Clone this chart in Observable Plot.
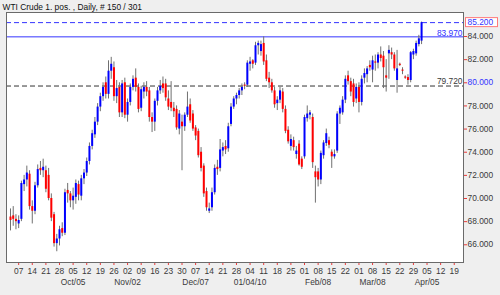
<!DOCTYPE html>
<html><head><meta charset="utf-8">
<script src="https://cdn.jsdelivr.net/npm/d3@7"></script>
<script src="https://cdn.jsdelivr.net/npm/@observablehq/plot@0.6"></script>
<style>
html,body{margin:0;padding:0;background:#efefef;}
</style></head><body><div id="chart"></div>
<script>
const title = "WTI Crude 1. pos. , Daily, # 150 / 301";

const open = [68.4,68.5,68.2,67.8,68.2,71.2,71.6,72.1,69.3,68.9,71.1,72.6,72.4,72.4,72.0,70.0,68.6,66.1,66.5,67.4,
67.0,70.7,70.4,69.8,70.1,71.2,70.2,71.7,72.2,73.2,74.5,75.5,76.6,77.9,78.8,80.0,79.0,81.0,81.3,78.8,
79.6,77.4,80.0,77.2,78.3,79.6,80.4,79.6,77.8,79.2,79.6,79.3,77.0,76.6,78.4,79.3,79.9,79.9,78.6,78.3,
77.8,77.7,76.0,76.6,76.2,77.2,78.1,77.3,76.1,75.8,74.0,72.8,70.6,68.9,69.2,70.5,72.7,72.6,74.1,74.5,
74.3,76.4,77.9,78.6,78.9,79.3,79.8,79.8,81.6,81.9,81.7,83.2,82.7,83.4,81.9,80.4,80.0,79.3,78.2,78.5,
79.2,77.7,75.9,74.5,75.0,73.8,74.7,73.4,73.6,76.9,77.2,77.0,72.3,72.3,71.6,73.7,74.75,75.0,74.0,73.6,
74.1,77.3,77.4,78.5,80.6,80.1,79.9,78.6,79.6,78.3,80.4,80.7,81.5,81.1,81.8,81.7,82.4,82.3,80.6,82.5,
82.6,82.4,80.2,81.6,81.1,80.5,80.45,80.2,82.4,82.5,83.3,83.6];
const high = [69.1,69.3,68.6,68.5,71.5,72.0,72.8,72.4,69.8,71.4,72.9,73.2,73.4,72.8,72.6,70.4,68.8,66.9,67.6,67.9,
70.8,71.3,70.6,70.9,71.6,71.5,72.0,72.5,73.5,74.8,75.9,77.0,78.2,79.1,80.0,80.5,81.9,82.2,81.8,80.2,
80.0,80.2,80.4,78.6,79.9,80.6,81.2,79.9,79.7,80.0,80.1,79.6,77.4,78.6,79.6,80.2,80.5,80.3,79.3,80.1,
78.3,78.0,77.6,77.2,77.4,79.2,78.6,77.6,76.3,76.0,74.4,73.0,70.9,69.6,70.9,72.9,73.3,75.1,74.8,75.0,
76.5,78.2,78.8,79.1,79.5,79.9,80.0,81.9,82.2,82.0,83.5,83.6,83.6,83.97,82.4,80.9,80.3,79.6,78.8,79.6,
79.5,78.0,76.2,75.5,75.3,74.5,75.0,73.6,77.2,78.0,77.6,77.3,72.8,72.6,74.1,75.0,76.0,75.3,74.2,74.2,
77.5,78.0,78.8,80.6,81.0,80.4,80.3,79.9,80.0,80.6,81.2,81.4,81.9,82.3,82.4,82.6,83.1,82.7,82.0,83.2,
83.0,82.6,82.8,81.7,81.3,80.6,80.7,82.7,82.9,83.6,84.1,85.25];
const low = [67.2,67.6,67.3,67.4,68.0,70.6,71.0,69.0,67.8,68.6,70.9,72.0,71.8,70.5,69.8,68.0,65.8,65.4,65.9,66.7,
66.8,69.6,69.2,69.0,69.5,69.8,69.8,71.2,71.9,72.9,74.2,75.2,76.3,77.5,78.4,78.6,78.6,80.3,78.4,78.2,
77.0,77.0,76.9,76.6,78.0,79.3,79.2,77.4,77.5,78.6,78.8,76.6,75.7,75.8,78.0,79.0,79.1,78.4,77.6,77.5,
77.0,75.9,75.5,72.4,75.8,77.0,76.5,75.8,75.0,73.5,72.3,70.1,68.9,68.7,68.9,70.3,72.0,72.3,73.6,73.8,
74.0,76.2,77.7,78.1,78.6,78.9,79.4,79.6,81.0,81.2,81.5,82.4,82.3,81.5,80.1,79.5,79.1,77.8,77.6,78.2,
77.4,75.6,74.7,74.1,74.1,73.4,72.8,72.5,73.4,76.6,76.8,72.6,69.6,71.0,71.2,73.4,74.5,74.3,72.6,73.4,
73.9,76.4,77.2,78.2,79.8,78.8,77.9,78.2,77.4,78.0,79.9,80.0,81.0,80.0,81.0,81.2,81.8,79.5,79.2,80.3,
82.0,81.0,79.1,81.4,80.7,80.3,79.8,80.0,82.0,82.3,83.1,83.3];
const close = [68.1,68.2,68.0,68.1,71.3,71.6,72.2,69.3,68.9,71.1,72.5,72.4,72.7,70.8,70.0,68.3,66.1,66.5,67.3,67.0,
70.5,70.4,69.8,70.2,71.3,70.3,71.7,72.2,73.2,74.5,75.6,76.6,77.9,78.8,79.6,79.0,81.0,81.6,78.8,79.5,
77.4,79.9,77.2,78.3,79.6,80.3,79.6,77.7,79.4,79.6,79.2,77.0,76.6,78.4,79.3,79.7,79.5,78.7,77.9,77.8,
77.5,76.1,77.3,76.2,77.2,77.9,76.7,76.0,75.4,73.7,72.6,70.4,69.2,69.1,70.5,72.6,72.5,74.2,74.4,74.2,
76.2,77.9,78.6,78.9,79.3,79.6,79.7,81.7,81.8,81.6,83.2,83.4,83.3,81.8,80.3,80.0,79.3,78.1,78.5,79.3,
77.7,75.8,74.9,75.1,74.4,74.1,72.9,72.7,77.0,77.3,77.4,73.1,71.8,71.6,73.9,74.8,75.6,74.6,73.6,73.8,
77.3,77.8,78.5,80.3,80.1,79.2,78.3,79.6,78.3,80.3,80.8,81.2,81.3,81.9,81.7,82.4,82.1,81.3,80.4,82.8,
82.4,81.2,81.2,81.5,81.0,80.4,80.2,82.6,82.7,83.4,83.8,85.2];

const weekLabels = ["07","14","21","28","05","12","19","26","02","09","16","23","30","07","14","21","28",
  "04","11","18","25","01","08","15","22","01","08","15","22","29","05","12","19"];
const firstWeekBar = 3, barsPerWeek = 5;
const monthLabels = ["Oct/05","Nov/02","Dec/07","01/04/10","Feb/08","Mar/08","Apr/05"];
const monthWeeks = [4, 8, 13, 17, 22, 26, 30];
const yTicks = [66, 68, 70, 72, 74, 76, 78, 80, 82, 84];
const lastPrice = 85.2, highLine = 83.97, refLine = 79.72, markedTick = 80;

const candles = close.map((c, i) => ({i, open: open[i], high: high[i], low: low[i], close: c}));
const weekTicks = weekLabels.map((label, k) => ({i: firstWeekBar + barsPerWeek * k, label}));
const monthTicks = monthLabels.map((label, j) => ({i: firstWeekBar + barsPerWeek * monthWeeks[j], label}));

const W = 500, H = 295, mL = 6, mR = 37, mT = 12, mB = 33;
const yDomain = [64.47, 86.074];
const blue = "#3434ff", red = "#e83a3a", txt = "#3a3a3a";

const chart = Plot.plot({
  width: W, height: H, marginLeft: mL, marginRight: mR, marginTop: mT, marginBottom: mB,
  style: {background: "#efefef", fontFamily: "'Liberation Sans', Arial, sans-serif", fontSize: "8.4px", color: txt, overflow: "visible"},
  x: {domain: [-1.47, 166.4], axis: "bottom", ticks: weekTicks.map(d => d.i), tickSize: 3, tickFormat: () => "", label: null},
  y: {domain: yDomain, axis: "right", ticks: yTicks, tickSize: 3, tickFormat: () => "", label: null},
  marks: [
    Plot.frame({fill: "white", stroke: "none"}),
    Plot.ruleY([refLine], {y: d => d, stroke: "#333", strokeDasharray: "5,3"}),
    Plot.ruleY([highLine], {y: d => d, stroke: blue}),
    Plot.ruleY([lastPrice], {y: d => d, stroke: blue, strokeDasharray: "5,3"}),
    Plot.ruleX(candles, {x: "i", y1: "low", y2: "high", stroke: "#707070"}),
    Plot.ruleX(candles, {filter: d => d.close >= d.open, x: "i", y1: "open", y2: "close", stroke: "#0000ff", strokeWidth: 2}),
    Plot.ruleX(candles, {filter: d => d.close < d.open, x: "i", y1: "open", y2: "close", stroke: "#ff0000", strokeWidth: 2}),
    Plot.frame({stroke: "#6a6a6a"}),
    Plot.text(yTicks.filter(d => d !== markedTick), {y: d => d, frameAnchor: "right", textAnchor: "start", dx: 4, text: d => d.toFixed(3), fill: txt}),
    Plot.text([markedTick], {y: d => d, frameAnchor: "right", textAnchor: "start", dx: 4, text: d => d.toFixed(3), fill: blue}),
    Plot.text([lastPrice], {y: d => d, frameAnchor: "right", textAnchor: "start", dx: 4, text: d => d.toFixed(3), fill: blue}),
    Plot.text([highLine], {y: d => d, frameAnchor: "right", textAnchor: "end", dx: -1, dy: -4, text: d => d.toFixed(3), fill: blue}),
    Plot.text([refLine], {y: d => d, frameAnchor: "right", textAnchor: "end", dx: -1, dy: -4.5, text: d => d.toFixed(3), fill: txt}),
    Plot.text(weekTicks, {x: "i", frameAnchor: "bottom", lineAnchor: "middle", dy: 9, text: "label", fill: txt}),
    Plot.text(monthTicks, {x: "i", frameAnchor: "bottom", lineAnchor: "middle", dy: 20, text: "label", fill: txt}),
    Plot.text([title], {frameAnchor: "top-left", textAnchor: "start", lineAnchor: "middle", dx: -4, dy: -5, text: d => d, fill: "#111"})
  ]
});

// colour the axis tick marks red, as in the reference
d3.select(chart).selectAll("[aria-label^='x-axis'] line, [aria-label^='y-axis'] line, [aria-label^='x-axis'] path, [aria-label^='y-axis'] path")
  .attr("stroke", red).style("stroke", red);

let yScale;
try { yScale = chart.scale("y"); } catch (e) { yScale = null; }
const ys = (yScale && yScale.apply) ? yScale.apply(lastPrice)
  : mT + (yDomain[1] - lastPrice) / (yDomain[1] - yDomain[0]) * (H - mT - mB);
d3.select(chart).insert("rect", ":first-child")
  .attr("x", W - mR + 2.5).attr("y", ys - 4.5).attr("width", 32).attr("height", 9)
  .attr("fill", "white").attr("stroke", "#ff7a7a");
document.getElementById("chart").append(chart);
</script></body></html>
